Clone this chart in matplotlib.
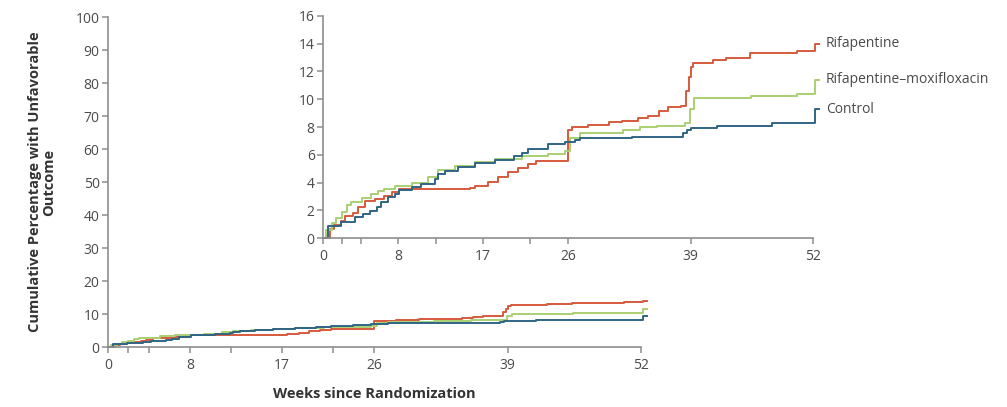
import matplotlib
matplotlib.use("Agg")
import matplotlib.pyplot as plt

plt.rcParams['font.family'] = ['Open Sans', 'DejaVu Sans']

# Cumulative percentage with unfavorable outcome (step curves)
weeks_rif = [0, 0.7, 1.2, 1.9, 2.3, 3.2, 3.7, 4.4, 5.5, 6.5, 7.3, 8.1, 15.6, 16.1, 17.5,
             18.6, 19.6, 20.7, 21.8, 22.6, 26.0, 26.4, 28.1, 30.3, 31.7, 33.4, 34.5, 35.6,
             36.6, 38.0, 38.5, 38.8, 39.0, 39.3, 41.4, 42.8, 45.3, 50.3, 52.2, 52.6]
rif = [0, 0.65, 0.94, 1.25, 1.6, 1.8, 2.2, 2.7, 2.8, 3.05, 3.3, 3.53, 3.6, 3.77, 4.06,
       4.38, 4.74, 5.02, 5.34, 5.58, 7.78, 7.98, 8.15, 8.34, 8.46, 8.63, 8.8, 9.18,
       9.42, 9.54, 10.6, 11.6, 12.35, 12.6, 12.8, 12.96, 13.3, 13.5, 14.0, 14.0]

weeks_moxi = [0, 0.3, 0.9, 1.4, 2.0, 2.5, 3.0, 4.1, 5.1, 5.8, 6.5, 7.6, 9.4, 11.1, 12.2,
              14.0, 16.1, 18.2, 21.1, 23.9, 25.7, 26.2, 27.3, 31.8, 33.6, 35.4, 38.4,
              38.9, 39.4, 45.4, 50.3, 52.2, 52.6]
moxi = [0, 0.57, 1.06, 1.42, 1.9, 2.38, 2.62, 2.86, 3.2, 3.41, 3.5, 3.77, 3.97, 4.4, 4.9,
        5.2, 5.45, 5.7, 5.94, 6.06, 6.3, 7.18, 7.54, 7.78, 7.97, 8.07, 8.3,
        9.3, 10.07, 10.24, 10.4, 11.4, 11.4]

weeks_ctrl = [0, 0.5, 1.9, 3.4, 4.2, 4.95, 5.7, 6.2, 6.9, 7.6, 8.1, 9.4, 10.4, 11.9, 12.2,
              12.9, 14.3, 16.1, 18.2, 20.3, 21.1, 21.8, 23.9, 25.7, 26.2, 26.7, 27.3,
              32.8, 38.2, 38.6, 39.0, 41.8, 47.6, 52.2, 52.6]
ctrl = [0, 0.9, 1.13, 1.5, 1.73, 1.97, 2.2, 2.57, 2.93, 3.17, 3.49, 3.65, 3.9, 4.25, 4.6,
        4.86, 5.1, 5.4, 5.65, 5.94, 6.13, 6.42, 6.78, 6.9, 6.95, 7.06, 7.18,
        7.25, 7.54, 7.75, 7.9, 8.1, 8.3, 9.27, 9.27]

series = [
    ("Rifapentine", weeks_rif, rif, "#d65a3c"),
    ("Rifapentine\u2013moxifloxacin", weeks_moxi, moxi, "#a9cf72"),
    ("Control", weeks_ctrl, ctrl, "#2f6584"),
]

x_ticks = [0, 8, 17, 26, 39, 52]
x_minor = [2, 4, 12, 22]
main_yticks = list(range(0, 101, 10))
inset_yticks = list(range(0, 17, 2))

AXIS_GRAY = "#8e8e8e"
TEXT_GRAY = "#4a4a4a"


def style_axes(ax):
    for side in ("top", "right"):
        ax.spines[side].set_visible(False)
    for side in ("left", "bottom"):
        ax.spines[side].set_color(AXIS_GRAY)
        ax.spines[side].set_linewidth(1.2)
    ax.set_xticks(x_ticks)
    ax.set_xticks(x_minor, minor=True)
    ax.tick_params(axis="both", which="both", direction="out", length=4, width=1.1,
                   color=AXIS_GRAY, labelcolor=TEXT_GRAY, labelsize=10)
    ax.tick_params(axis="x", pad=4)
    ax.tick_params(axis="y", pad=2)
    ax.set_xlim(0, 52)
    ax.patch.set_alpha(0)


fig = plt.figure(figsize=(10.07, 4.07), dpi=100)

# main panel (0-100 scale)
ax = fig.add_axes([0.1072, 0.1474, 0.5293, 0.8108])
for name, w, v, c in series:
    ax.step(w, v, where="post", color=c, lw=1.4, clip_on=False)
style_axes(ax)
ax.set_ylim(0, 100)
ax.set_yticks(main_yticks)
ax.set_xlabel("Weeks since Randomization", fontsize=10.5, fontweight="bold",
              color="#333333", labelpad=10)
ax.set_ylabel("Cumulative Percentage with Unfavorable\nOutcome", fontsize=10.5,
              fontweight="bold", color="#333333", labelpad=14, linespacing=1.05)

# inset panel (0-16 zoom)
ins = fig.add_axes([0.3208, 0.4152, 0.4866, 0.5455])
for name, w, v, c in series:
    ins.step(w, v, where="post", color=c, lw=1.4, clip_on=False)
    ins.annotate(name, xy=(w[-1], v[-1]), xytext=(5, 0), textcoords="offset points",
                 va="center", ha="left", fontsize=10, color=TEXT_GRAY,
                 annotation_clip=False)
style_axes(ins)
ins.set_ylim(0, 16)
ins.set_yticks(inset_yticks)

fig.savefig("out.png", dpi=100)
